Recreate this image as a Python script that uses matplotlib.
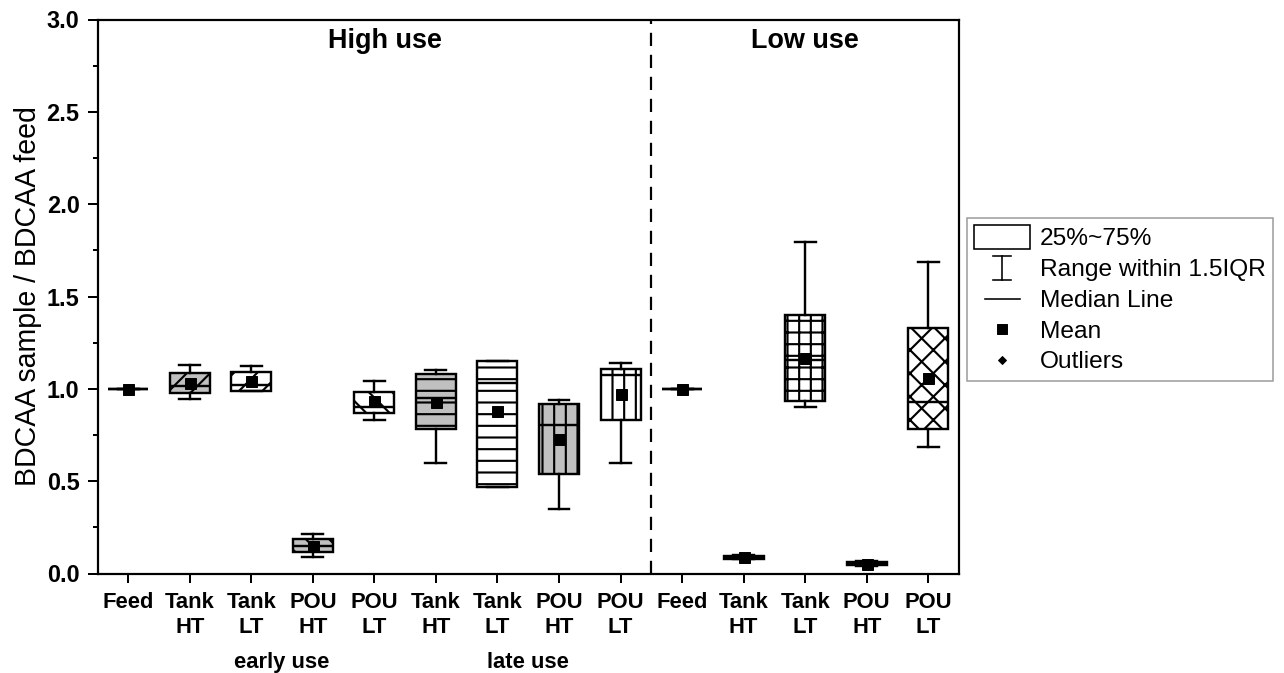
import matplotlib
matplotlib.use('Agg')
import matplotlib.pyplot as plt
from matplotlib.lines import Line2D
from matplotlib.patches import Rectangle
from matplotlib.legend_handler import HandlerBase
from matplotlib.ticker import MultipleLocator, FormatStrFormatter

plt.rcParams['font.family'] = ['Liberation Sans', 'DejaVu Sans']
plt.rcParams['hatch.linewidth'] = 2.2

DPI = 70


def px(v):
    # pixel size -> points at this dpi
    return v * 72.0 / DPI


# BDCAA sample / feed ratios, high use (9 boxes) then low use (5 boxes)
categories = ['Feed', 'Tank\nHT', 'Tank\nLT', 'POU\nHT', 'POU\nLT',
              'Tank\nHT', 'Tank\nLT', 'POU\nHT', 'POU\nLT',
              'Feed', 'Tank\nHT', 'Tank\nLT', 'POU\nHT', 'POU\nLT']
whislo = [1.000, 0.945, 0.988, 0.089, 0.831, 0.597, 0.468, 0.351, 0.600,
          1.000, 0.077, 0.902, 0.043, 0.685]
q1 = [1.000, 0.976, 0.988, 0.115, 0.867, 0.781, 0.468, 0.537, 0.831,
      1.000, 0.081, 0.934, 0.048, 0.784]
median = [1.000, 1.015, 1.021, 0.150, 0.903, 0.953, 1.033, 0.803, 1.075,
          1.000, 0.088, 1.155, 0.054, 0.927]
q3 = [1.000, 1.084, 1.090, 0.185, 0.984, 1.079, 1.151, 0.918, 1.106,
      1.000, 0.095, 1.400, 0.060, 1.331]
whishi = [1.000, 1.129, 1.122, 0.212, 1.044, 1.102, 1.151, 0.938, 1.140,
          1.000, 0.099, 1.793, 0.065, 1.687]
mean = [1.000, 1.030, 1.044, 0.151, 0.934, 0.929, 0.880, 0.727, 0.970,
        1.000, 0.088, 1.169, 0.054, 1.060]

fills = ['white', '#c0c0c0', 'white', '#c0c0c0', 'white',
         '#c0c0c0', 'white', '#c0c0c0', 'white',
         'white', 'black', 'white', 'black', 'white']
hatches = [None, '/', '/', '\\', '\\', '-', '-', '|', '|',
           None, None, '+', None, 'x']

use_labels = ['High use', 'Low use']
phase_labels = ['early use', 'late use']
legend_labels = ['25%~75%', 'Range within 1.5IQR', 'Median Line', 'Mean', 'Outliers']

positions = list(range(1, len(categories) + 1))
n_high = 9
LW = px(2.4)

fig = plt.figure(figsize=(1284 / DPI, 673 / DPI), dpi=DPI)
ax = fig.add_axes([97.5 / 1284, 1 - 573.5 / 673, (959 - 97.5) / 1284, (573.5 - 19.5) / 673])

stats = []
for i, lab in enumerate(categories):
    stats.append(dict(label=lab, whislo=whislo[i], q1=q1[i], med=median[i],
                      q3=q3[i], whishi=whishi[i], mean=mean[i], fliers=[]))

bp = ax.bxp(stats, positions=positions, widths=0.65, capwidths=0.34,
            patch_artist=True, showmeans=True, showfliers=False,
            manage_ticks=False,
            boxprops=dict(linewidth=LW, edgecolor='black'),
            whiskerprops=dict(linewidth=LW, color='black'),
            capprops=dict(linewidth=LW, color='black'),
            medianprops=dict(linewidth=LW, color='black'),
            meanprops=dict(marker='s', markersize=px(11), markerfacecolor='black',
                           markeredgecolor='black'))

for box, fc, h in zip(bp['boxes'], fills, hatches):
    box.set_facecolor(fc)
    if h:
        box.set_hatch(h)
for m in bp['means']:
    m.set_zorder(5)

# split between the two use scenarios
ax.axvline(n_high + 0.5, color='black', linewidth=px(2.2), linestyle=(0, (6, 4)))

ax.set_xlim(0.5, len(categories) + 0.5)
ax.set_ylim(0, 3.0)
ax.set_xticks(positions)
ax.set_xticklabels(categories, fontsize=px(22), fontweight='bold', linespacing=1.27)
ax.yaxis.set_major_locator(MultipleLocator(0.5))
ax.yaxis.set_minor_locator(MultipleLocator(0.25))
ax.yaxis.set_major_formatter(FormatStrFormatter('%.1f'))
for t in ax.get_yticklabels():
    t.set_fontweight('bold')
    t.set_fontsize(px(23.5))

ax.tick_params(axis='x', which='major', direction='out', length=px(9), width=px(2), pad=px(9))
ax.tick_params(axis='y', which='major', direction='out', length=px(10), width=px(2), pad=px(8))
ax.tick_params(axis='y', which='minor', direction='out', length=px(5), width=px(2))
ax.tick_params(top=False, right=False, which='both')
for s in ax.spines.values():
    s.set_linewidth(px(2.2))

ax.set_ylabel('BDCAA sample / BDCAA feed', fontsize=px(28.5), labelpad=px(4))

ax.text(5.17, 2.843, use_labels[0], ha='center', va='baseline',
        fontsize=px(27), fontweight='bold')
ax.text((n_high + 0.5 + len(categories) + 0.5) / 2, 2.843, use_labels[1],
        ha='center', va='baseline', fontsize=px(27), fontweight='bold')

xt = ax.get_xaxis_transform()
ax.text(3.5, -0.1706, phase_labels[0], transform=xt, ha='center', va='baseline',
        fontsize=px(22), fontweight='bold')
ax.text(7.5, -0.1706, phase_labels[1], transform=xt, ha='center', va='baseline',
        fontsize=px(22), fontweight='bold')


class KeyHandler(HandlerBase):
    def __init__(self, kind):
        super().__init__()
        self.kind = kind

    def create_artists(self, legend, orig_handle, xdescent, ydescent,
                       width, height, fontsize, trans):
        x0, y0 = -xdescent, -ydescent
        cx, cy = x0 + width / 2, y0 + height / 2
        lw = px(1.6)
        if self.kind == 'box':
            arts = [Rectangle((x0, y0), width, height, facecolor='white',
                              edgecolor='black', lw=lw)]
        elif self.kind == 'whisker':
            c = width * 0.16
            arts = [Line2D([cx, cx], [y0, y0 + height], color='black', lw=lw),
                    Line2D([cx - c, cx + c], [y0 + height] * 2, color='black', lw=lw),
                    Line2D([cx - c, cx + c], [y0, y0], color='black', lw=lw)]
        elif self.kind == 'median':
            arts = [Line2D([cx - width * 0.31, cx + width * 0.31], [cy, cy],
                           color='black', lw=lw)]
        elif self.kind == 'mean':
            arts = [Line2D([cx], [cy], marker='s', markersize=px(9), color='black',
                           linestyle='none')]
        else:
            arts = [Line2D([cx], [cy], marker='D', markersize=px(6), color='black',
                           linestyle='none')]
        for a in arts:
            a.set_transform(trans)
        return arts


kinds = ['box', 'whisker', 'median', 'mean', 'outlier']
handles = [Line2D([], []) for _ in kinds]
hmap = {h: KeyHandler(k) for h, k in zip(handles, kinds)}
leg = ax.legend(handles, legend_labels, handler_map=hmap,
                loc='upper left', bbox_to_anchor=(967 / 1284, 1 - 218 / 673),
                bbox_transform=fig.transFigure, borderaxespad=0,
                fontsize=px(24.5), handlelength=2.29, handleheight=1.1,
                handletextpad=0.37, labelspacing=0.23, borderpad=0.3,
                fancybox=False, frameon=True)
leg.get_frame().set_edgecolor('#808080')
leg.get_frame().set_linewidth(px(1.5))

fig.savefig('out.png', dpi=DPI)
